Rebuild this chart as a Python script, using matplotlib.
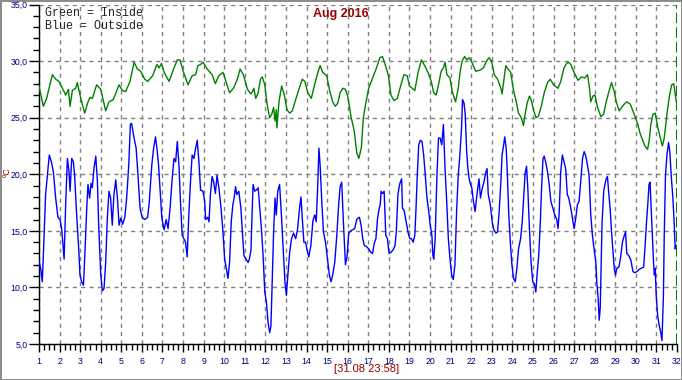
import matplotlib
matplotlib.use('Agg')
import matplotlib.pyplot as plt
from matplotlib.ticker import MultipleLocator, FuncFormatter

plt.rcParams['font.family'] = 'Liberation Sans'

# Data: day of month (fractional) and temperature in C
inside_day = [1.00, 1.21, 1.37, 1.65, 1.81, 1.97, 2.30, 2.43, 2.51, 2.62, 2.78, 2.86, 3.03, 3.22, 3.38,
              3.48, 3.59, 3.80, 4.00, 4.24, 4.40, 4.61, 4.89, 5.05, 5.21, 5.42, 5.62, 5.78, 5.94, 6.14,
              6.28, 6.52, 6.73, 6.84, 6.95, 7.08, 7.32, 7.56, 7.72, 7.85, 8.01, 8.24, 8.44, 8.61, 8.72,
              8.85, 8.97, 9.17, 9.41, 9.57, 9.73, 9.94, 10.10, 10.26, 10.45, 10.64, 10.77, 10.93, 11.13,
              11.29, 11.37, 11.44, 11.53, 11.65, 11.76, 11.85, 11.97, 12.08, 12.21, 12.31, 12.40, 12.47,
              12.53, 12.56, 12.66, 12.79, 12.92, 13.05, 13.18, 13.31, 13.47, 13.63, 13.79, 13.92, 14.06,
              14.23, 14.39, 14.55, 14.66, 14.79, 14.98, 15.11, 15.27, 15.40, 15.52, 15.63, 15.76, 15.89,
              16.00, 16.16, 16.32, 16.44, 16.54, 16.66, 16.76, 16.89, 17.02, 17.21, 17.40, 17.56, 17.69,
              17.82, 17.98, 18.10, 18.25, 18.41, 18.57, 18.73, 18.89, 19.00, 19.13, 19.26, 19.42, 19.58,
              19.74, 19.90, 20.06, 20.18, 20.30, 20.41, 20.54, 20.65, 20.73, 20.82, 20.97, 21.08, 21.24,
              21.37, 21.46, 21.56, 21.68, 21.79, 21.90, 22.03, 22.22, 22.43, 22.59, 22.75, 22.86, 22.99,
              23.12, 23.28, 23.44, 23.50, 23.60, 23.68, 23.79, 23.92, 24.05, 24.19, 24.30, 24.43, 24.54,
              24.62, 24.72, 24.83, 24.91, 25.04, 25.15, 25.26, 25.39, 25.55, 25.71, 25.84, 26.00, 26.22,
              26.35, 26.51, 26.64, 26.72, 26.84, 27.00, 27.19, 27.36, 27.52, 27.65, 27.73, 27.81, 27.91,
              28.01, 28.14, 28.30, 28.43, 28.56, 28.69, 28.82, 28.95, 29.05, 29.19, 29.31, 29.44, 29.56,
              29.73, 29.92, 30.08, 30.21, 30.33, 30.44, 30.57, 30.65, 30.73, 30.83, 30.94, 31.06, 31.19,
              31.29, 31.38, 31.51, 31.64, 31.74, 31.84, 31.92, 31.97]
inside_temp = [27.8, 26.0, 26.7, 28.8, 28.4, 28.2, 27.0, 27.5, 26.0, 27.4, 27.6, 28.1, 26.7, 25.4, 26.4,
               26.8, 26.7, 27.9, 27.5, 25.6, 26.4, 26.6, 27.9, 27.4, 27.3, 28.2, 29.9, 29.3, 29.1, 28.4,
               28.2, 28.7, 29.7, 29.4, 29.8, 29.0, 28.2, 29.4, 30.1, 30.1, 29.1, 27.9, 28.7, 28.8, 29.6,
               29.7, 29.9, 29.3, 28.8, 28.0, 28.7, 29.0, 28.1, 27.2, 27.6, 28.4, 29.3, 28.8, 27.5,
               27.1, 27.3, 27.6, 26.7, 27.2, 28.4, 28.6, 27.9, 26.2, 25.0, 25.3, 25.9, 24.7,
               25.7, 24.1, 26.4, 27.8, 27.0, 25.7, 25.4, 25.6, 26.6, 27.5, 28.4, 28.2, 27.2,
               26.7, 27.9, 29.0, 29.6, 29.0, 28.7, 27.5, 26.4, 26.0, 26.3, 27.2, 27.6, 27.5,
               26.9, 25.1, 23.8, 21.9, 21.4, 22.3, 25.0, 26.4, 27.6, 28.5, 29.4, 30.3, 30.4,
               29.7, 28.7, 27.0, 26.5, 26.7, 27.8, 28.8, 28.7, 27.8, 27.6, 27.4, 29.0, 30.1,
               29.6, 29.0, 28.2, 27.2, 27.0, 27.9, 29.1, 29.4, 29.9, 28.8, 28.5, 27.3, 26.4,
               27.6, 29.0, 30.0, 30.4, 30.1, 30.3, 29.9, 29.1, 29.2, 29.4, 30.0, 30.3, 30.0,
               28.8, 28.4, 27.6, 27.1, 28.5, 29.6, 29.3, 29.0, 27.5, 26.4, 25.4, 25.0, 24.3,
               25.3, 26.3, 26.9, 26.6, 25.6, 25.0, 25.1, 25.9, 27.2, 28.1, 28.4, 27.9, 27.6,
               28.2, 29.4, 29.8, 29.9, 29.7, 29.0, 28.3, 28.6, 28.5, 28.8, 27.9, 26.4, 26.9,
               27.0, 25.9, 25.1, 25.3, 26.4, 27.3, 28.1, 27.3, 26.4, 25.6, 25.9, 26.2, 26.4,
               26.2, 25.3, 24.5, 23.6, 23.0, 22.5, 22.2, 23.0, 24.4, 25.3, 25.4, 24.2, 23.2,
               22.5, 23.2, 25.3, 27.0, 27.9, 28.0, 27.0, 26.4]

outside_day = [1.00, 1.08, 1.16, 1.24, 1.32, 1.44, 1.50, 1.60, 1.70, 1.81, 1.92, 2.02, 2.10, 2.18, 2.22,
               2.30, 2.38, 2.46, 2.51, 2.59, 2.67, 2.73, 2.83, 2.93, 2.99, 3.07, 3.16, 3.24, 3.32, 3.38,
               3.46, 3.53, 3.59, 3.67, 3.76, 3.84, 3.90, 4.00, 4.08, 4.16, 4.24, 4.32, 4.40, 4.48, 4.56,
               4.64, 4.73, 4.81, 4.89, 4.97, 5.07, 5.17, 5.26, 5.36, 5.44, 5.50, 5.62, 5.72, 5.81, 5.91,
               6.01, 6.14, 6.28, 6.36, 6.48, 6.57, 6.66, 6.73, 6.81, 6.89, 6.97, 7.08, 7.18, 7.27, 7.37,
               7.47, 7.56, 7.64, 7.72, 7.80, 7.88, 7.96, 8.04, 8.12, 8.20, 8.28, 8.36, 8.44, 8.53, 8.61,
               8.69, 8.77, 8.85, 8.97, 9.05, 9.10, 9.20, 9.26, 9.33, 9.41, 9.49, 9.57, 9.65, 9.74, 9.83,
               9.94, 10.02, 10.10, 10.18, 10.26, 10.34, 10.42, 10.48, 10.55, 10.61, 10.71, 10.81, 10.88,
               10.96, 11.06, 11.16, 11.22, 11.30, 11.32, 11.40, 11.48, 11.56, 11.65, 11.73, 11.81, 11.89,
               11.97, 12.05, 12.13, 12.21, 12.27, 12.34, 12.40, 12.47, 12.53, 12.60, 12.69, 12.77, 12.85,
               12.95, 13.02, 13.08, 13.18, 13.27, 13.37, 13.47, 13.56, 13.66, 13.73, 13.79, 13.87, 13.95,
               14.05, 14.11, 14.21, 14.31, 14.40, 14.47, 14.55, 14.60, 14.66, 14.74, 14.82, 14.92, 15.02,
               15.11, 15.19, 15.27, 15.37, 15.47, 15.56, 15.63, 15.71, 15.79, 15.89, 15.97, 16.05, 16.15,
               16.24, 16.34, 16.44, 16.49, 16.57, 16.65, 16.73, 16.81, 16.92, 17.02, 17.13, 17.21, 17.29,
               17.37, 17.45, 17.53, 17.58, 17.62, 17.69, 17.77, 17.85, 17.93, 18.01, 18.10, 18.20, 18.30,
               18.36, 18.44, 18.52, 18.62, 18.66, 18.74, 18.84, 18.94, 19.02, 19.10, 19.18, 19.26, 19.32,
               19.38, 19.45, 19.53, 19.61, 19.69, 19.77, 19.85, 19.93, 20.01, 20.09, 20.14, 20.18, 20.25,
               20.33, 20.41, 20.49, 20.57, 20.65, 20.73, 20.81, 20.89, 20.97, 21.05, 21.13, 21.21, 21.29,
               21.37, 21.45, 21.53, 21.58, 21.65, 21.71, 21.78, 21.84, 21.90, 21.97, 22.03, 22.11, 22.19,
               22.26, 22.32, 22.38, 22.45, 22.54, 22.62, 22.70, 22.77, 22.83, 22.93, 23.02, 23.10, 23.20,
               23.28, 23.36, 23.44, 23.50, 23.57, 23.63, 23.70, 23.76, 23.82, 23.90, 23.98, 24.06, 24.14,
               24.22, 24.30, 24.40, 24.48, 24.56, 24.62, 24.69, 24.75, 24.83, 24.91, 24.99, 25.07, 25.14,
               25.20, 25.28, 25.36, 25.42, 25.49, 25.55, 25.63, 25.71, 25.79, 25.87, 25.97, 26.06, 26.16,
               26.22, 26.27, 26.35, 26.43, 26.51, 26.59, 26.67, 26.74, 26.84, 26.92, 27.00, 27.08, 27.16,
               27.24, 27.32, 27.41, 27.49, 27.57, 27.65, 27.73, 27.81, 27.89, 27.97, 28.06, 28.10, 28.17,
               28.22, 28.27, 28.30, 28.36, 28.44, 28.50, 28.56, 28.62, 28.69, 28.75, 28.82, 28.88, 28.95,
               29.01, 29.08, 29.18, 29.27, 29.35, 29.44, 29.50, 29.56, 29.66, 29.76, 29.86, 29.95, 30.05,
               30.17, 30.28, 30.38, 30.44, 30.52, 30.59, 30.64, 30.69, 30.73, 30.80, 30.86, 30.90, 30.94,
               30.99, 31.06, 31.14, 31.21, 31.27, 31.34, 31.38, 31.44, 31.51, 31.59, 31.65, 31.73, 31.80,
               31.86, 31.91, 31.96]
outside_temp = [12.3, 11.7, 10.5, 14.2, 18.2, 20.5, 21.7, 21.1, 20.2, 17.9, 16.2, 16.0, 15.2, 13.4, 12.5,
                17.6, 21.4, 20.2, 18.5, 21.4, 21.1, 19.9, 16.4, 13.4, 11.1, 10.5, 10.2, 13.4, 17.0, 19.1,
                17.9, 19.2, 18.8, 20.5, 21.6, 19.3, 15.5, 11.1, 9.7, 9.9, 12.2, 16.1, 18.5, 17.9, 15.5,
                18.2, 19.5, 17.9, 15.5, 16.1, 15.6, 16.2, 17.9, 20.8, 24.4, 24.5, 23.2, 22.3, 19.9, 17.0,
                16.2, 16.0, 16.2, 17.6, 20.8, 22.3, 23.3, 22.3, 20.8, 18.5, 16.1, 15.1, 16.0, 15.2, 17.0,
                19.6, 21.4, 21.1, 22.9, 20.8, 17.3, 14.6, 14.3, 14.0, 12.7, 16.4, 19.3, 21.7, 21.4, 22.3,
                23.0, 21.1, 18.6, 18.5, 17.6, 16.0, 16.2, 15.8, 18.2, 19.8, 19.3, 18.3, 19.9, 18.8, 17.3,
                14.9, 12.5, 11.7, 10.8, 12.2, 15.8, 17.3, 17.9, 18.9, 18.2, 18.5, 17.0, 14.9,
                12.8, 12.5, 12.2, 12.5, 13.3, 14.6, 19.1, 18.5, 18.6, 18.8, 17.0, 15.1, 12.8,
                9.6, 8.7, 6.9, 6.0, 6.6, 11.1, 14.9, 17.9, 16.4, 18.5, 19.1, 16.7, 14.0,
                10.5, 9.3, 10.8, 13.1, 14.3, 14.8, 14.3, 15.1, 17.0, 18.0, 16.2, 14.0, 14.0,
                13.1, 12.7, 13.7, 15.9, 16.4, 15.8, 19.3, 22.3, 20.8, 17.6, 14.9, 14.0, 12.5,
                11.1, 10.5, 11.1, 12.2, 14.6, 17.3, 18.9, 19.3, 15.8, 12.0, 12.8, 14.8, 15.0,
                15.1, 15.2, 16.0, 16.1, 16.2, 15.5, 14.3, 13.7, 13.6, 13.4, 13.1, 13.0, 13.9,
                14.3, 16.1, 17.0, 17.3, 18.5, 18.3, 18.5, 14.6, 14.3, 13.0, 13.1, 13.3, 13.7,
                14.9, 18.2, 19.1, 19.6, 17.0, 16.8, 15.8, 14.8, 14.3, 14.3, 14.0, 14.6, 17.0,
                19.9, 22.6, 23.0, 22.9, 21.7, 19.9, 17.9, 16.8, 15.5, 14.6, 12.8, 12.5, 14.3,
                19.6, 23.2, 23.2, 22.6, 24.4, 20.5, 17.6, 14.3, 12.5, 11.1, 10.7, 12.0, 16.7,
                19.9, 21.7, 24.1, 26.6, 26.3, 25.3, 22.0, 20.5, 19.6, 19.1, 18.8, 17.6, 16.7,
                17.9, 18.8, 19.6, 17.9, 18.8, 19.3, 20.1, 20.5, 18.2, 17.3, 15.8, 15.1, 14.8,
                14.9, 16.7, 19.3, 21.7, 22.5, 23.3, 22.3, 19.9, 16.7, 14.0, 12.0, 10.8, 10.5,
                11.7, 13.4, 14.3, 15.8, 18.2, 20.1, 20.7, 18.8, 15.2, 12.2, 10.5, 10.3, 9.6,
                11.1, 12.8, 15.8, 18.8, 21.4, 21.6, 21.0, 20.2, 19.1, 17.6, 17.0, 16.4, 16.0,
                15.2, 16.4, 20.2, 21.7, 21.1, 20.5, 18.2, 17.9, 17.0, 16.1, 15.2, 16.1, 17.3,
                17.6, 19.3, 21.4, 22.0, 21.6, 20.8, 19.9, 16.4, 14.6, 13.4, 12.2, 10.5, 9.0,
                7.1, 8.2, 10.8, 15.8, 18.5, 19.1, 19.6, 19.8, 18.2, 17.0, 14.9, 13.4, 11.7,
                11.1, 11.7, 11.8, 12.8, 14.0, 14.6, 14.9, 13.0, 12.8, 12.4, 11.4, 11.3, 11.4,
                11.6, 11.7, 11.8, 13.4, 15.8, 17.6, 19.1, 19.3, 17.6, 14.6, 12.2, 11.1, 11.7,
                9.3, 7.5, 6.6, 6.0, 5.3, 9.3, 14.6, 19.9, 21.7, 22.8, 22.0, 19.6, 17.9,
                15.8, 13.4, 13.7]

day_ticks = list(range(1, 33))
title = 'Aug 2016'
stamp = '[31.08 23:58]'

W, H = 682, 380
fig = plt.figure(figsize=(W / 100, H / 100), dpi=100, facecolor='white',
                 edgecolor='#8c8c8c', linewidth=2)
ax = fig.add_axes([39 / W, 36 / H, (677 - 39) / W, (344 - 4.5) / H])

ax.plot(inside_day, inside_temp, color='#008000', lw=1.0, zorder=3)
ax.plot(outside_day, outside_temp, color='#0000ff', lw=1.0, zorder=3)
ax.axvline(32, color='#008000', lw=1.5, ls=(0, (5, 2)), zorder=4)

ax.set_xlim(1, 32)
ax.set_ylim(5, 35)
ax.set_xticks(day_ticks)
ax.xaxis.set_minor_locator(MultipleLocator(0.25))
ax.yaxis.set_major_locator(MultipleLocator(5))
ax.yaxis.set_minor_locator(MultipleLocator(1))
ax.yaxis.set_major_formatter(FuncFormatter(lambda v, p: f'{v:.1f}'.replace('.', ',')))

ax.tick_params(axis='y', which='major', length=7, width=1, pad=1, labelsize=6.3, labelcolor='#000080')
ax.tick_params(axis='y', which='minor', length=4, width=1)
ax.tick_params(axis='x', which='major', length=6, width=1, pad=3, labelsize=6.3, labelcolor='#000080')
ax.tick_params(axis='x', which='minor', length=4, width=1)

ax.grid(which='major', color='#808080', ls=(0, (3, 3)), lw=1)
for s in ['top', 'right']:
    ax.spines[s].set_visible(False)
for s in ['left', 'bottom']:
    ax.spines[s].set_linewidth(1)

fig.text(341 / W, 1 - 14 / H, title, ha='center', va='center', fontsize=9,
         fontweight='bold', color='#990000')
fig.text(45 / W, 1 - 13 / H, 'Green = Inside', ha='left', va='center', fontsize=8.4,
         family='Liberation Mono', color='#202020')
fig.text(45 / W, 1 - 26 / H, 'Blue = Outside', ha='left', va='center', fontsize=8.4,
         family='Liberation Mono', color='#202020')
fig.text(7.5 / W, 1 - 172 / H, 'ºC', ha='center', va='center', rotation=90, fontsize=6.5,
         color='#990000')
fig.text(367 / W, 1 - 369 / H, stamp, ha='center', va='center', fontsize=8, color='#990000')

fig.savefig('out.png', dpi=100)
